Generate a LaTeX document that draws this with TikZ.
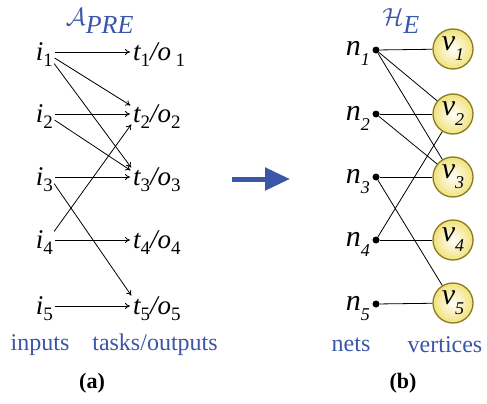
\documentclass[tikz,border=0pt]{standalone}
\usepackage{fontspec}
\setmainfont{Liberation Serif}
\usetikzlibrary{arrows.meta}
\definecolor{capblue}{HTML}{3A56A8}
\definecolor{vborder}{HTML}{8C7A1F}
\definecolor{vfill}{HTML}{F2E27A}
% upright subscript (a) and italic subscript below the baseline (b)
\newcommand{\lo}[1]{\raisebox{-6pt}{\fontsize{19}{19}\selectfont\upshape #1}}
\newcommand{\ilo}[1]{\raisebox{-10pt}{\fontsize{18}{18}\selectfont\itshape #1}}
\begin{document}
\begin{tikzpicture}[x=1pt, y=-1pt, >={To[length=5pt,width=6pt]},
  lbl/.style={inner sep=0pt, font=\fontsize{27}{29}\selectfont\itshape},
  rlbl/.style={inner sep=0pt, font=\fontsize{30}{32}\selectfont\itshape},
  captext/.style={inner sep=0pt, text=capblue, font=\fontsize{24}{26}\selectfont},
  link/.style={->, line width=0.8pt, shorten <=2pt, shorten >=3pt},
  net/.style={line width=0.8pt},
  dot/.style={circle, fill=black, inner sep=0pt, minimum size=7pt},
  vtx/.style={circle, draw=vborder, line width=1.3pt, inner color=white, outer color=vfill, minimum size=40pt, inner sep=0pt, font=\fontsize{30}{32}\selectfont\itshape}]
  \useasboundingbox (0,0) rectangle (487,404);
  % (a) inputs and tasks
  \node[captext, font=\fontsize{26}{28}\selectfont] (apre) at (100,21) {$\mathcal{A}_{\textit{PRE}}$};
  \node[lbl, anchor=base east] (i1) at (53,60) {i\lo{1}};
  \node[lbl, anchor=base east] (i2) at (53,122) {i\lo{2}};
  \node[lbl, anchor=base east] (i3) at (53,185) {i\lo{3}};
  \node[lbl, anchor=base east] (i4) at (53,248) {i\lo{4}};
  \node[lbl, anchor=base east] (i5) at (53,314) {i\lo{5}};
  \node[lbl, anchor=base west] (t1) at (133,60) {t\lo{1}/o\,\lo{1}};
  \node[lbl, anchor=base west] (t2) at (133,122) {t\lo{2}/o\lo{2}};
  \node[lbl, anchor=base west] (t3) at (133,185) {t\lo{3}/o\lo{3}};
  \node[lbl, anchor=base west] (t4) at (133,248) {t\lo{4}/o\lo{4}};
  \node[lbl, anchor=base west] (t5) at (133,314) {t\lo{5}/o\lo{5}};
  \draw[link] ([yshift=8pt]i1.base east) -- ([yshift=8pt]t1.base west);
  \draw[link] ([yshift=3pt]i1.base east) -- ([yshift=15pt]t2.base west);
  \draw[link] ([yshift=-2pt]i1.base east) -- ([yshift=15pt]t3.base west);
  \draw[link] ([yshift=8pt]i2.base east) -- ([yshift=8pt]t2.base west);
  \draw[link] ([yshift=3pt]i2.base east) -- ([yshift=13pt]t3.base west);
  \draw[link] ([yshift=8pt]i3.base east) -- ([yshift=8pt]t3.base west);
  \draw[link] ([yshift=3pt]i3.base east) -- ([yshift=16pt]t5.base west);
  \draw[link] ([yshift=15pt]i4.base east) -- ([yshift=0pt]t2.base west);
  \draw[link] ([yshift=8pt]i4.base east) -- ([yshift=8pt]t4.base west);
  \draw[link] ([yshift=8pt]i5.base east) -- ([yshift=8pt]t5.base west);
  \node[captext] (inputs) at (40,345) {inputs};
  \node[captext] (tasks) at (155,345) {tasks/outputs};
  \node[inner sep=0pt, font=\fontsize{22}{24}\selectfont\bfseries] (capa) at (92,383) {(a)};
  % big arrow
  \coordinate (arrS) at (232,179);
  \coordinate (arrE) at (290,179);
  \draw[-{Triangle[length=25pt,width=22pt]}, line width=5pt, capblue] (arrS) -- (arrE);
  % (b) nets and vertices
  \node[captext, font=\fontsize{26}{28}\selectfont] (he) at (401,21) {$\mathcal{H}_{\textit{E}}$};
  \node[rlbl, anchor=base east] (n1) at (370,56) {n\ilo{1}};
  \node[rlbl, anchor=base east] (n2) at (370,120) {n\ilo{2}};
  \node[rlbl, anchor=base east] (n3) at (370,183) {n\ilo{3}};
  \node[rlbl, anchor=base east] (n4) at (370,246) {n\ilo{4}};
  \node[rlbl, anchor=base east] (n5) at (370,310) {n\ilo{5}};
  \node[dot] (d1) at (376,50) {};
  \node[dot] (d2) at (376,114) {};
  \node[dot] (d3) at (376,177) {};
  \node[dot] (d4) at (376,240) {};
  \node[dot] (d5) at (376,304) {};
  \node[vtx] (v1) at (453,49) {v\ilo{1}};
  \node[vtx] (v2) at (453,114) {v\ilo{2}};
  \node[vtx] (v3) at (453,177) {v\ilo{3}};
  \node[vtx] (v4) at (453,240) {v\ilo{4}};
  \node[vtx] (v5) at (453,303) {v\ilo{5}};
  \draw[net] (d1) -- (v1);
  \draw[net] (d1) -- (v2);
  \draw[net] (d1) -- (v3);
  \draw[net] (d2) -- (v2);
  \draw[net] (d2) -- (v3);
  \draw[net] (d3) -- (v3);
  \draw[net] (d3) -- (v5);
  \draw[net] (d4) -- (v2);
  \draw[net] (d4) -- (v4);
  \draw[net] (d5) -- (v5);
  \node[captext] (nets) at (351,345) {nets};
  \node[captext] (verts) at (445,345) {vertices};
  \node[inner sep=0pt, font=\fontsize{22}{24}\selectfont\bfseries] (capb) at (403,383) {(b)};
\end{tikzpicture}
\end{document}
